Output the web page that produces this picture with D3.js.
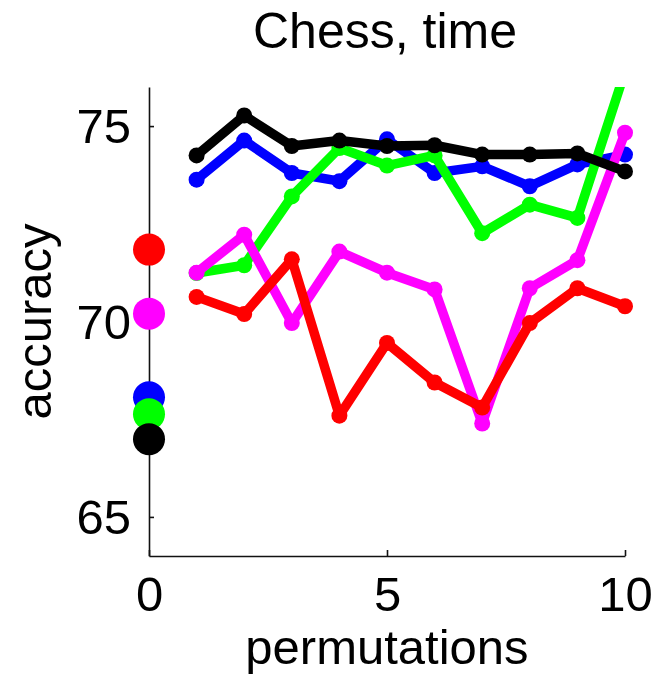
<!DOCTYPE html>
<html>
<head>
<meta charset="utf-8">
<script src="https://cdn.jsdelivr.net/npm/d3@7/dist/d3.min.js"></script>
<style>
  html, body { margin: 0; padding: 0; background: #fff; }
  svg { display: block; }
  text { font-family: "Liberation Sans", Arial, sans-serif; fill: #000; }
</style>
</head>
<body>
<script>
// Accuracy per number of permutations, Chess dataset (time)
const permutations = [1, 2, 3, 4, 5, 6, 7, 8, 9, 10];
const blueSeries    = [73.63, 74.63, 73.80, 73.59, 74.66, 73.80, 73.97, 73.46, 74.02, 74.27];
const greenSeries   = [71.24, 71.44, 73.20, 74.44, 73.99, 74.25, 72.26, 72.99, 72.65, 76.40];
const magentaSeries = [71.25, 72.22, 69.96, 71.79, 71.25, 70.82, 67.39, 70.85, 71.57, 74.83];
const redSeries     = [70.63, 70.19, 71.59, 67.59, 69.45, 68.44, 67.80, 69.96, 70.85, 70.39];
const blackSeries   = [74.25, 75.27, 74.49, 74.63, 74.49, 74.51, 74.27, 74.27, 74.30, 73.84];

// Accuracy with no permutation (x = 0)
const baseNames  = ["blue", "green", "magenta", "red", "black"];
const baseValues = [68.06, 67.63, 70.20, 71.84, 66.99];

const xTicks = [0, 5, 10];
const yTicks = [65, 70, 75];

const seriesList = [
  { color: "#0000ff", values: blueSeries },
  { color: "#00ff00", values: greenSeries },
  { color: "#ff00ff", values: magentaSeries },
  { color: "#ff0000", values: redSeries },
  { color: "#000000", values: blackSeries }
];
const colorOf = { blue: "#0000ff", green: "#00ff00", magenta: "#ff00ff", red: "#ff0000", black: "#000000" };

const W = 653, H = 679;
const margin = { left: 149, right: 28, top: 87, bottom: 123 };
const iw = W - margin.left - margin.right;
const ih = H - margin.top - margin.bottom;

const x = d3.scaleLinear().domain([0, 10]).range([0, iw]);
const y = d3.scaleLinear().domain([64, 76]).range([ih, 0]);

const svg = d3.select("body").append("svg").attr("width", W).attr("height", H);
const g = svg.append("g").attr("transform", `translate(${margin.left},${margin.top})`);

svg.append("defs").append("clipPath").attr("id", "plotClip")
  .append("rect").attr("x", -40).attr("y", 0).attr("width", iw + 80).attr("height", ih + 40);

// Axes: left and bottom only, ticks pointing inward
const fontSize = 49;
const yAxis = g.append("g").call(d3.axisLeft(y).tickValues(yTicks).tickSizeInner(-5).tickSizeOuter(0).tickPadding(18));
const xAxis = g.append("g").attr("transform", `translate(0,${ih})`)
  .call(d3.axisBottom(x).tickValues(xTicks).tickSizeInner(-6).tickSizeOuter(0).tickPadding(20));
[yAxis, xAxis].forEach(a => {
  a.select(".domain").attr("stroke", "#111").attr("stroke-width", 1.6);
  a.selectAll(".tick line").attr("stroke", "#111").attr("stroke-width", 1.6);
  a.selectAll(".tick text").attr("font-size", fontSize).attr("font-family", "Liberation Sans, Arial, sans-serif").attr("fill", "#000");
});
yAxis.selectAll(".tick text").attr("dy", "0.34em");
xAxis.selectAll(".tick text").attr("dy", "0.71em");

// Series lines with markers
const plot = g.append("g").attr("clip-path", "url(#plotClip)");
const line = d3.line().x((d, i) => x(permutations[i])).y(d => y(d));
seriesList.forEach(s => {
  const sg = plot.append("g");
  sg.append("path").datum(s.values)
    .attr("d", line).attr("fill", "none").attr("stroke", s.color)
    .attr("stroke-width", 9.5).attr("stroke-linejoin", "round").attr("stroke-linecap", "round");
  sg.selectAll("circle").data(s.values).join("circle")
    .attr("cx", (d, i) => x(permutations[i])).attr("cy", d => y(d))
    .attr("r", 8).attr("fill", s.color);
});

// Baseline accuracy markers at x = 0
g.append("g").selectAll("circle").data(baseNames).join("circle")
  .attr("cx", x(0)).attr("cy", (d, i) => y(baseValues[i]))
  .attr("r", 16).attr("fill", d => colorOf[d]);

// Title and axis labels
svg.append("text").attr("x", margin.left + iw / 2 - 2).attr("y", 48)
  .attr("text-anchor", "middle").attr("font-size", 50).text("Chess, time");
svg.append("text").attr("x", margin.left + iw / 2).attr("y", 664)
  .attr("text-anchor", "middle").attr("font-size", fontSize).text("permutations");
svg.append("text").attr("transform", `translate(51,${margin.top + y(70)}) rotate(-90)`)
  .attr("text-anchor", "middle").attr("font-size", fontSize).text("accuracy");
</script>
</body>
</html>
